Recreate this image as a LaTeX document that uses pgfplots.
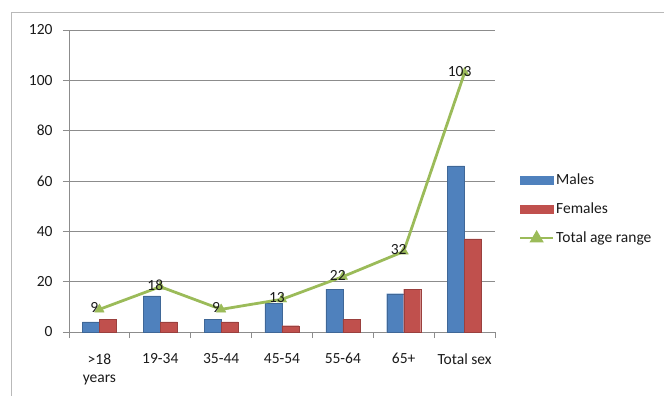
\documentclass[border=0pt]{standalone}
\usepackage{pgfplots}
\pgfplotsset{compat=1.18}
\usepackage{fontspec}
\setmainfont{Carlito}
\definecolor{cblue}{HTML}{4F81BD}
\definecolor{cred}{HTML}{C0504D}
\definecolor{cgreen}{HTML}{9BBB59}
\definecolor{cgrid}{HTML}{8C8C8C}
\definecolor{ctext}{HTML}{1A1A1A}
\begin{document}
\begin{tikzpicture}
\begin{axis}[
  at={(0,0)}, anchor=south west,
  scale only axis, width=426bp, height=302bp,
  xmin=-0.5, xmax=6.5, ymin=0, ymax=120,
  ytick={0,20,...,120},
  xtick={0,...,6},
  xticklabels={{\textgreater18\\years},19-34,35-44,45-54,55-64,65+,Total sex},
  minor xtick={-0.5,0.5,...,6.5},
  axis x line*=bottom, axis y line*=left,
  axis line style={cgrid, line width=0.8pt},
  x axis line style={-}, y axis line style={-},
  ymajorgrids, grid style={cgrid, line width=0.8pt},
  tick align=outside,
  major tick length=6bp, minor tick length=6bp,
  tick style={cgrid, line width=0.8pt},
  xtick style={draw=none},
  minor x tick style={draw=cgrid},
  ticklabel style={font=\fontsize{15.5bp}{18bp}\selectfont, text=ctext},
  xticklabel style={align=center, yshift=-12bp},
  yticklabel style={xshift=-7bp},
  /pgf/number format/assume math mode=true,
  legend style={at={(1.056,0.407)}, anchor=west, draw=none, fill=none,
    font=\fontsize{15.5bp}{16bp}\selectfont, text=ctext,
    row sep=13bp, cells={anchor=west}, inner xsep=0pt},
  legend cell align=left,
]
\addplot[ybar, bar width=17bp, bar shift=-8.5bp, fill=cblue, draw=cblue!80!black, line width=0.3pt,
  legend image code/.code={\fill[cblue] (0bp,-4bp) rectangle (33bp,4bp);}]
  coordinates {(0,4) (1,14.4) (2,5) (3,11.5) (4,17) (5,15.2) (6,66)};
\addlegendentry{Males}
\addplot[ybar, bar width=17bp, bar shift=8.5bp, fill=cred, draw=cred!80!black, line width=0.3pt,
  legend image code/.code={\fill[cred] (0bp,-4bp) rectangle (33bp,4bp);}]
  coordinates {(0,5) (1,4) (2,4) (3,2.5) (4,5) (5,17) (6,37)};
\addlegendentry{Females}
\addplot[color=cgreen, line width=2.8pt, mark=triangle*, mark size=5.5bp,
  mark options={solid, fill=cgreen, draw=cgreen, line width=0.3pt},
  nodes near coords, every node near coord/.append style={anchor=center, xshift=-5bp, yshift=1.5bp,
    font=\fontsize{15.5bp}{16bp}\selectfont, text=ctext},
  legend image code/.code={\draw[cgreen, line width=2.2pt] (0bp,0bp) -- (33bp,0bp);
    \fill[cgreen] (16.5bp,0bp) ++(90:5.5bp) -- ++(-120:9.5bp) -- ++(0:9.5bp) -- cycle;}]
  coordinates {(0,9) (1,18) (2,9) (3,13) (4,22) (5,32) (6,103)};
\addlegendentry{Total age range}
\end{axis}
\draw[gray!55, line width=0.8pt] (-58bp,-90bp) -- (-58bp,320bp) -- (620bp,320bp);
\pgfresetboundingbox
\path[use as bounding box] (-69bp,-64bp) rectangle (595bp,332bp);
\end{tikzpicture}
\end{document}
